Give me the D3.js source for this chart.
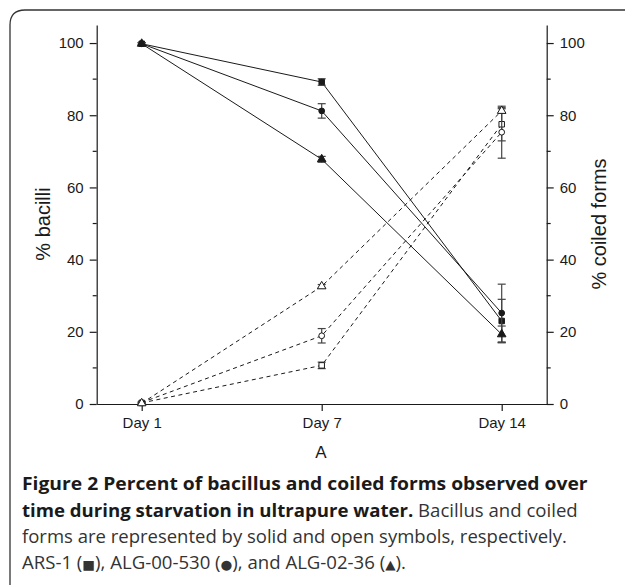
<!DOCTYPE html>
<html>
<head>
<meta charset="utf-8">
<script src="https://cdn.jsdelivr.net/npm/d3@7"></script>
<style>
  body { margin: 0; background: #fff; }
  svg { display: block; }
  .axis path, .axis line { stroke: #1a1a1a; stroke-width: 1.2; }
  .axis text { font-family: "Liberation Sans", Arial, sans-serif; font-size: 15px; fill: #1a1a1a; }
</style>
</head>
<body>
<svg id="chart" width="625" height="585"></svg>
<script>
// data
var days = ["Day 1", "Day 7", "Day 14"];
var yTicks = [0, 20, 40, 60, 80, 100];
var yMinor = [10, 30, 50, 70, 90];

// % bacilli (solid symbols)
var bacARS1 = [99.8, 89.2, 23.0];
var bacARS1Err = [0.3, 0.9, 6.0];
var bacALG530 = [99.8, 81.2, 25.2];
var bacALG530Err = [0.3, 2.0, 8.0];
var bacALG236 = [99.8, 67.8, 19.3];
var bacALG236Err = [0.3, 0.8, 2.3];

// % coiled forms (open symbols)
var coilARS1 = [0.3, 10.7, 77.5];
var coilARS1Err = [0.2, 0.9, 4.6];
var coilALG530 = [0.4, 18.9, 75.3];
var coilALG530Err = [0.2, 2.0, 7.2];
var coilALG236 = [0.2, 32.6, 81.2];
var coilALG236Err = [0.2, 0.5, 0.6];

var svg = d3.select("#chart");

// frame with rounded top-left corner
svg.append("path")
	.attr("d", "M10,585 V25 Q10,10 25,10 H625")
	.attr("fill", "none")
	.attr("stroke", "#333")
	.attr("stroke-width", 1.3);

var plotLeft = 96.7, plotRight = 546.7, plotTop = 25, plotBottom = 404;

var x = d3.scaleLinear().domain([-0.25, 2.25]).range([plotLeft, plotRight]);
var y = d3.scaleLinear().domain([0, 105]).range([plotBottom, plotTop]);

var g = svg.append("g");

// axes
g.append("g")
	.attr("class", "axis")
	.attr("transform", "translate(0," + plotBottom + ")")
	.call(d3.axisBottom(x).tickValues([0, 1, 2]).tickFormat(function(i) { return days[i]; })
		.tickSize(7).tickSizeOuter(0).tickPadding(6));

var yl = g.append("g")
	.attr("class", "axis")
	.attr("transform", "translate(" + plotLeft + ",0)")
	.call(d3.axisLeft(y).tickValues(yTicks).tickSize(7).tickSizeOuter(0).tickPadding(6));
yl.selectAll(".minor").data(yMinor).enter().append("line")
	.attr("class", "minor")
	.attr("x1", -4).attr("x2", 0)
	.attr("y1", function(d) { return y(d); })
	.attr("y2", function(d) { return y(d); });

var yr = g.append("g")
	.attr("class", "axis")
	.attr("transform", "translate(" + plotRight + ",0)")
	.call(d3.axisRight(y).tickValues(yTicks).tickSize(7).tickSizeOuter(0).tickPadding(6));
yr.selectAll(".minor").data(yMinor).enter().append("line")
	.attr("class", "minor")
	.attr("x1", 0).attr("x2", 4)
	.attr("y1", function(d) { return y(d); })
	.attr("y2", function(d) { return y(d); });

// axis titles
svg.append("text")
	.attr("transform", "translate(50,224) rotate(-90)")
	.attr("text-anchor", "middle")
	.style("font-family", "Liberation Sans, Arial, sans-serif")
	.style("font-size", "20px")
	.attr("fill", "#1a1a1a")
	.text("% bacilli");
svg.append("text")
	.attr("transform", "translate(606,224) rotate(-90)")
	.attr("text-anchor", "middle")
	.style("font-family", "Liberation Sans, Arial, sans-serif")
	.style("font-size", "20px")
	.attr("fill", "#1a1a1a")
	.text("% coiled forms");
svg.append("text")
	.attr("x", 321).attr("y", 458)
	.attr("text-anchor", "middle")
	.style("font-family", "Liberation Sans, Arial, sans-serif")
	.style("font-size", "17px")
	.attr("fill", "#1a1a1a")
	.text("A");

var series = [
	{ v: bacARS1, e: bacARS1Err, shape: "square", open: false },
	{ v: bacALG530, e: bacALG530Err, shape: "circle", open: false },
	{ v: bacALG236, e: bacALG236Err, shape: "triangle", open: false },
	{ v: coilARS1, e: coilARS1Err, shape: "square", open: true },
	{ v: coilALG530, e: coilALG530Err, shape: "circle", open: true },
	{ v: coilALG236, e: coilALG236Err, shape: "triangle", open: true }
];

var line = d3.line()
	.x(function(d, i) { return x(i); })
	.y(function(d) { return y(d); });

var symbolType = { square: d3.symbolSquare, circle: d3.symbolCircle, triangle: d3.symbolTriangle };
var symbolSize = { square: 30, circle: 26, triangle: 32 };

series.forEach(function(s) {
	g.append("path")
		.attr("d", line(s.v))
		.attr("fill", "none")
		.attr("stroke", "#1a1a1a")
		.attr("stroke-width", 1)
		.attr("stroke-dasharray", s.open ? "4,3.5" : null);

	var eb = g.append("g").attr("stroke", "#444").attr("stroke-width", 1.2);
	s.v.forEach(function(val, i) {
		var hi = y(val + s.e[i]), lo = y(val - s.e[i]), cx = x(i);
		eb.append("line").attr("x1", cx).attr("x2", cx).attr("y1", hi).attr("y2", lo);
		eb.append("line").attr("x1", cx - 4).attr("x2", cx + 4).attr("y1", hi).attr("y2", hi);
		eb.append("line").attr("x1", cx - 4).attr("x2", cx + 4).attr("y1", lo).attr("y2", lo);
	});

	g.append("g").selectAll("path").data(s.v).enter().append("path")
		.attr("transform", function(d, i) { return "translate(" + x(i) + "," + y(d) + ")"; })
		.attr("d", d3.symbol().type(symbolType[s.shape]).size(symbolSize[s.shape]))
		.attr("fill", s.open ? "#fff" : "#1a1a1a")
		.attr("stroke", "#1a1a1a")
		.attr("stroke-width", 1);
});

// caption: [text, bold, small symbol]
var caption = [
	{ y: 490, w: 566, parts: [["Figure 2 Percent of bacillus and coiled forms observed over", true]] },
	{ y: 517, w: 556, parts: [["time during starvation in ultrapure water.", true], [" Bacillus and coiled", false]] },
	{ y: 543, w: 545, parts: [["forms are represented by solid and open symbols, respectively.", false]] },
	{ y: 569, w: 384, parts: [["ARS-1 (", false], ["\u25A0", false, true], ["), ALG-00-530 (", false], ["\u25CF", false, true],
		["), and ALG-02-36 (", false], ["\u25B2", false, true], [").", false]] }
];
caption.forEach(function(c) {
	var t = svg.append("text")
		.attr("x", 0).attr("y", 0)
		.style("font-family", "Open Sans, sans-serif")
		.style("font-size", "18px")
		.attr("fill", "#222");
	c.parts.forEach(function(p) {
		t.append("tspan")
			.attr("font-weight", p[1] ? "bold" : "normal")
			.attr("fill", p[1] ? "#1a1a1a" : "#333")
			.style("font-size", p[2] ? "13px" : null)
			.style("font-family", p[2] ? "DejaVu Sans, sans-serif" : null)
			.text(p[0]);
	});
	var w = t.node().getComputedTextLength();
	t.attr("transform", "translate(22," + c.y + ") scale(" + (c.w / w) + ",1)");
});
</script>
</body>
</html>
